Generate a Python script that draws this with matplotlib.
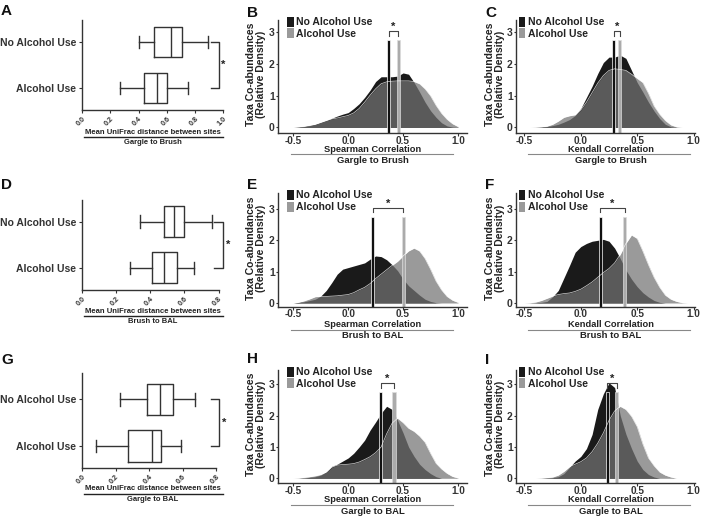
import matplotlib
matplotlib.use('Agg')
import matplotlib.pyplot as plt
from matplotlib.patches import Patch
from matplotlib.lines import Line2D

plt.rcParams['font.family'] = ['Liberation Sans', 'DejaVu Sans']
plt.rcParams['font.weight'] = 'bold'
plt.rcParams['text.color'] = '#222222'
plt.rcParams['xtick.color'] = '#333333'
plt.rcParams['ytick.color'] = '#333333'

W, H = 704, 518

# ---- DATA ----
groups = ['Alcohol Use', 'No Alcohol Use']

# box stats: whislo, q1, median, q3, whishi
box_A_no = [0.40, 0.51, 0.63, 0.71, 0.89]
box_A_alc = [0.27, 0.44, 0.53, 0.60, 0.75]
box_D_no = [0.337, 0.478, 0.537, 0.595, 0.76]
box_D_alc = [0.279, 0.41, 0.482, 0.556, 0.657]
box_G_no = [0.224, 0.387, 0.466, 0.542, 0.675]
box_G_alc = [0.083, 0.274, 0.417, 0.47, 0.59]

ticks_A = [0.0, 0.2, 0.4, 0.6, 0.8, 1.0]
ticks_DG = [0.0, 0.2, 0.4, 0.6, 0.8]

dens_x = [-0.5, -0.45, -0.4, -0.35, -0.3, -0.25, -0.2, -0.15, -0.1, -0.05,
          0.0, 0.05, 0.1, 0.15, 0.2, 0.25, 0.3, 0.35, 0.4, 0.45,
          0.5, 0.55, 0.6, 0.65, 0.7, 0.75, 0.8, 0.85, 0.9, 0.95, 1.0]

dens_B_no = [0, 0.01, 0.03, 0.06, 0.1, 0.16, 0.22, 0.29, 0.36, 0.42,
             0.47, 0.6, 0.75, 0.95, 1.18, 1.45, 1.6, 1.6, 1.6, 1.62,
             1.72, 1.68, 1.42, 1.12, 0.8, 0.53, 0.32, 0.15, 0.05, 0.01, 0]
dens_B_alc = [0, 0.02, 0.04, 0.07, 0.1, 0.16, 0.22, 0.27, 0.3, 0.34,
              0.38, 0.46, 0.6, 0.8, 1.02, 1.22, 1.38, 1.44, 1.46, 1.47,
              1.47, 1.47, 1.45, 1.38, 1.22, 1.0, 0.7, 0.45, 0.26, 0.12, 0.03]
dens_C_no = [0, 0, 0, 0.01, 0.03, 0.06, 0.1, 0.17, 0.25, 0.38,
             0.6, 0.95, 1.3, 1.7, 2.05, 2.22, 2.22, 2.28, 2.18, 1.8,
             1.42, 1.12, 0.8, 0.52, 0.28, 0.1, 0.02, 0, 0, 0, 0]
dens_C_alc = [0, 0, 0.01, 0.02, 0.04, 0.1, 0.2, 0.32, 0.37, 0.4,
              0.55, 0.8, 1.1, 1.4, 1.64, 1.8, 1.85, 1.83, 1.8, 1.68,
              1.55, 1.42, 1.08, 0.68, 0.42, 0.22, 0.08, 0.02, 0, 0, 0]
dens_E_no = [0, 0.02, 0.04, 0.08, 0.12, 0.22, 0.4, 0.65, 0.92, 1.08,
             1.13, 1.18, 1.23, 1.28, 1.4, 1.5, 1.48, 1.38, 1.22, 1.03,
             0.76, 0.55, 0.4, 0.25, 0.12, 0.05, 0.01, 0, 0, 0, 0]
dens_E_alc = [0, 0.02, 0.07, 0.13, 0.2, 0.21, 0.21, 0.22, 0.23, 0.25,
              0.27, 0.33, 0.42, 0.5, 0.62, 0.78, 0.92, 1.06, 1.2, 1.33,
              1.5, 1.66, 1.75, 1.66, 1.42, 1.08, 0.7, 0.42, 0.21, 0.09, 0.02]
dens_F_no = [0, 0, 0.01, 0.02, 0.05, 0.2, 0.4, 0.8, 1.2, 1.62,
             1.8, 1.9, 1.97, 2.0, 2.03, 1.97, 1.75, 1.42, 1.05, 0.76,
             0.52, 0.33, 0.19, 0.08, 0.02, 0, 0, 0, 0, 0, 0]
dens_F_alc = [0, 0.01, 0.03, 0.08, 0.15, 0.22, 0.27, 0.3, 0.32, 0.37,
              0.44, 0.55, 0.67, 0.82, 0.97, 1.1, 1.28, 1.55, 1.9, 2.17,
              2.06, 1.66, 1.22, 0.82, 0.5, 0.25, 0.12, 0.05, 0.01, 0, 0]
dens_H_no = [0, 0, 0.01, 0.03, 0.05, 0.1, 0.2, 0.38, 0.45, 0.55,
             0.65, 0.8, 1.0, 1.22, 1.54, 1.8, 2.08, 2.3, 2.2, 1.85,
             1.45, 1.0, 0.7, 0.45, 0.28, 0.15, 0.05, 0, 0, 0, 0]
dens_H_alc = [0, 0.01, 0.03, 0.05, 0.08, 0.12, 0.2, 0.35, 0.42, 0.44,
              0.45, 0.47, 0.52, 0.6, 0.69, 0.82, 1.0, 1.42, 1.76, 1.92,
              1.78, 1.6, 1.5, 1.35, 1.15, 0.8, 0.48, 0.3, 0.16, 0.06, 0.01]
dens_I_no = [0, 0, 0, 0, 0.01, 0.02, 0.05, 0.15, 0.35, 0.55,
             0.7, 0.95, 1.4, 2.2, 2.7, 3.05, 2.9, 2.0, 1.41, 0.95,
             0.55, 0.28, 0.12, 0.04, 0, 0, 0, 0, 0, 0, 0]
dens_I_alc = [0, 0, 0, 0.01, 0.02, 0.04, 0.1, 0.22, 0.37, 0.45,
              0.53, 0.65, 0.85, 1.12, 1.45, 1.85, 2.15, 2.3, 2.2, 1.98,
              1.65, 1.1, 0.65, 0.4, 0.2, 0.1, 0.04, 0, 0, 0, 0]

# medians (no alcohol, alcohol) shown as vertical bars
med_B = [0.37, 0.456]
med_C = [0.292, 0.345]
med_E = [0.223, 0.502]
med_F = [0.172, 0.39]
med_H = [0.296, 0.417]
med_I = [0.234, 0.317]

fig = plt.figure(figsize=(W / 100, H / 100), dpi=100)


def px_axes(left, top, right, bottom):
    return fig.add_axes([left / W, 1 - bottom / H, (right - left) / W, (bottom - top) / H])


def ftext(x, y, s, **kw):
    fig.text(x / W, 1 - y / H, s, **kw)


def fline(x1, x2, y, color, lw):
    fig.add_artist(Line2D([x1 / W, x2 / W], [1 - y / H, 1 - y / H],
                          transform=fig.transFigure, color=color, lw=lw))


def style_spines(ax):
    for s in ['top', 'right']:
        ax.spines[s].set_visible(False)
    for s in ['left', 'bottom']:
        ax.spines[s].set_linewidth(1.0)
        ax.spines[s].set_color('#333333')


def box_panel(ax, no, alc, ticks, ylim, br, star_x):
    stats = []
    for v in (alc, no):
        stats.append(dict(whislo=v[0], q1=v[1], med=v[2], q3=v[3], whishi=v[4], fliers=[]))
    props = dict(color='#333333', lw=1.0)
    ax.bxp(stats, positions=[0, 1], widths=0.67, capwidths=0.27, orientation='horizontal',
           boxprops=props, whiskerprops=props, capprops=props, medianprops=props)
    ax.set_xlim(ticks[0], ticks[-1])
    ax.set_ylim(*ylim)
    ax.set_yticks([0, 1])
    ax.set_yticklabels(groups, fontsize=7.5, fontweight='bold')
    ax.set_xticks(ticks)
    ax.set_xticklabels([f'{t:.1f}' for t in ticks], rotation=45, ha='right',
                       rotation_mode='anchor', fontsize=5.2)
    ax.tick_params(length=2.5, width=0.8, pad=1.5)
    style_spines(ax)
    ax.plot([br[0], br[1], br[1], br[0]], [1, 1, 0, 0], color='#333333', lw=1.0, clip_on=False)
    ax.text(star_x, 0.5, '*', ha='center', va='center', fontsize=8, clip_on=False)


def density_panel(ax, no, alc, med, xlim, ylim, leg_x):
    ax.fill_between(dens_x, no, color='#1a1a1a', lw=0)
    ax.fill_between(dens_x, alc, color='#737373', alpha=0.72, lw=0)
    ax.plot(dens_x, alc, color='white', lw=0.5, alpha=0.8)
    bot = ylim[0]
    ax.bar([med[0]], [2.75 - bot], bottom=bot, width=0.026, color='#111111',
           edgecolor='white', lw=0.5)
    ax.bar([med[1]], [2.75 - bot], bottom=bot, width=0.03, color='#ababab',
           edgecolor='#dddddd', lw=0.5)
    ax.plot([med[0], med[0], med[1], med[1]], [2.9, 3.04, 3.04, 2.9],
            color='#444444', lw=0.8, clip_on=False)
    ax.text((med[0] + med[1]) / 2, 3.07, '*', ha='center', va='baseline', fontsize=8)
    ax.set_xlim(*xlim)
    ax.set_ylim(*ylim)
    ax.set_xticks([-0.5, 0.0, 0.5, 1.0])
    ax.set_xticklabels(['-0.5', '0.0', '0.5', '1.0'], fontsize=7.2)
    ax.set_yticks([0, 1, 2, 3])
    ax.set_yticklabels(['0', '1', '2', '3'], fontsize=7.5)
    ax.tick_params(length=1.8, width=0.8, pad=0.6)
    ax.tick_params(axis='x', pad=0.2)
    style_spines(ax)
    handles = [Patch(facecolor='#1a1a1a', label='No Alcohol Use'),
               Patch(facecolor='#9a9a9a', label='Alcohol Use')]
    ax.legend(handles=handles, loc='upper left', bbox_to_anchor=(leg_x, 1.03), frameon=False,
              prop={'weight': 'bold', 'size': 7.5}, handlelength=0.6, handleheight=1.1,
              handletextpad=0.25, labelspacing=0.12, borderpad=0, borderaxespad=0)


# ---- box plots (left column) ----
axA = px_axes(82, 20, 223.5, 110)
box_panel(axA, box_A_no, box_A_alc, ticks_A, (-0.48, 1.48), (0.91, 0.97), 1.0)
axD = px_axes(82, 200, 218.5, 290)
box_panel(axD, box_D_no, box_D_alc, ticks_DG, (-0.48, 1.47), (0.775, 0.825), 0.855)
axG = px_axes(82, 373, 216, 468)
box_panel(axG, box_G_no, box_G_alc, ticks_DG, (-0.47, 1.56), (0.77, 0.82), 0.85)

for (y1, yl, y2, name) in [(132.5, 136.7, 142.3, 'Gargle to Brush'),
                           (311.7, 316.0, 321.8, 'Brush to BAL'),
                           (489.0, 494.0, 499.6, 'Gargle to BAL')]:
    ftext(153, y1, 'Mean UniFrac distance between sites', ha='center', va='center', fontsize=5.5)
    fline(84, 222.5, yl, '#222222', 1.0)
    ftext(153, y2, name, ha='center', va='center', fontsize=5.5)

# ---- density plots ----
rows = [(20, 133.3, (-0.183, 3.39), 149.3, 154.2, 160.3, 'Gargle to Brush'),
        (193.3, 306.7, (-0.118, 3.5), 324.8, 330.2, 336.0, 'Brush to BAL'),
        (370, 483.3, (-0.16, 3.46), 500.0, 505.2, 511.0, 'Gargle to BAL')]
dens_no = [(dens_B_no, dens_C_no), (dens_E_no, dens_F_no), (dens_H_no, dens_I_no)]
dens_alc = [(dens_B_alc, dens_C_alc), (dens_E_alc, dens_F_alc), (dens_H_alc, dens_I_alc)]
meds = [(med_B, med_C), (med_E, med_F), (med_H, med_I)]

for r, (top, bottom, ylim, yl1, yline, yl2, name) in enumerate(rows):
    ax1 = px_axes(278, top, 467, bottom)
    density_panel(ax1, dens_no[r][0], dens_alc[r][0], meds[r][0], (-0.639, 1.082), ylim, 0.049)
    ax2 = px_axes(516, top, 695, bottom)
    density_panel(ax2, dens_no[r][1], dens_alc[r][1], meds[r][1], (-0.575, 1.013), ylim, 0.018)

    ftext(372.8, yl1, 'Spearman Correlation', ha='center', va='center', fontsize=6.7)
    fline(291, 452.7, yline, '#888888', 0.8)
    ftext(372.8, yl2, name, ha='center', va='center', fontsize=6.8)
    ftext(610.8, yl1, 'Kendall Correlation', ha='center', va='center', fontsize=6.7)
    fline(528.3, 690, yline, '#888888', 0.8)
    ftext(610.8, yl2, name, ha='center', va='center', fontsize=6.8)

    ymid = (top + bottom) / 2 - 2
    ftext(256, ymid, 'Taxa Co-abundances\n(Relative Density)', ha='center', va='center',
          rotation=90, fontsize=7.5, linespacing=1.0)
    ftext(494.7, ymid, 'Taxa Co-abundances\n(Relative Density)', ha='center', va='center',
          rotation=90, fontsize=7.5, linespacing=1.0)

# ---- panel letters ----
letters = [('A', 1, 15.3), ('B', 246.7, 16.7), ('C', 485, 16.7),
           ('D', 1, 189), ('E', 246.7, 189), ('F', 485, 189),
           ('G', 1, 364.3), ('H', 247.3, 363.3), ('I', 485, 364)]
for s, x, y in letters:
    ftext(x, y, s, ha='left', va='baseline', fontsize=11, color='#111111')

fig.savefig('out.png', dpi=100)
